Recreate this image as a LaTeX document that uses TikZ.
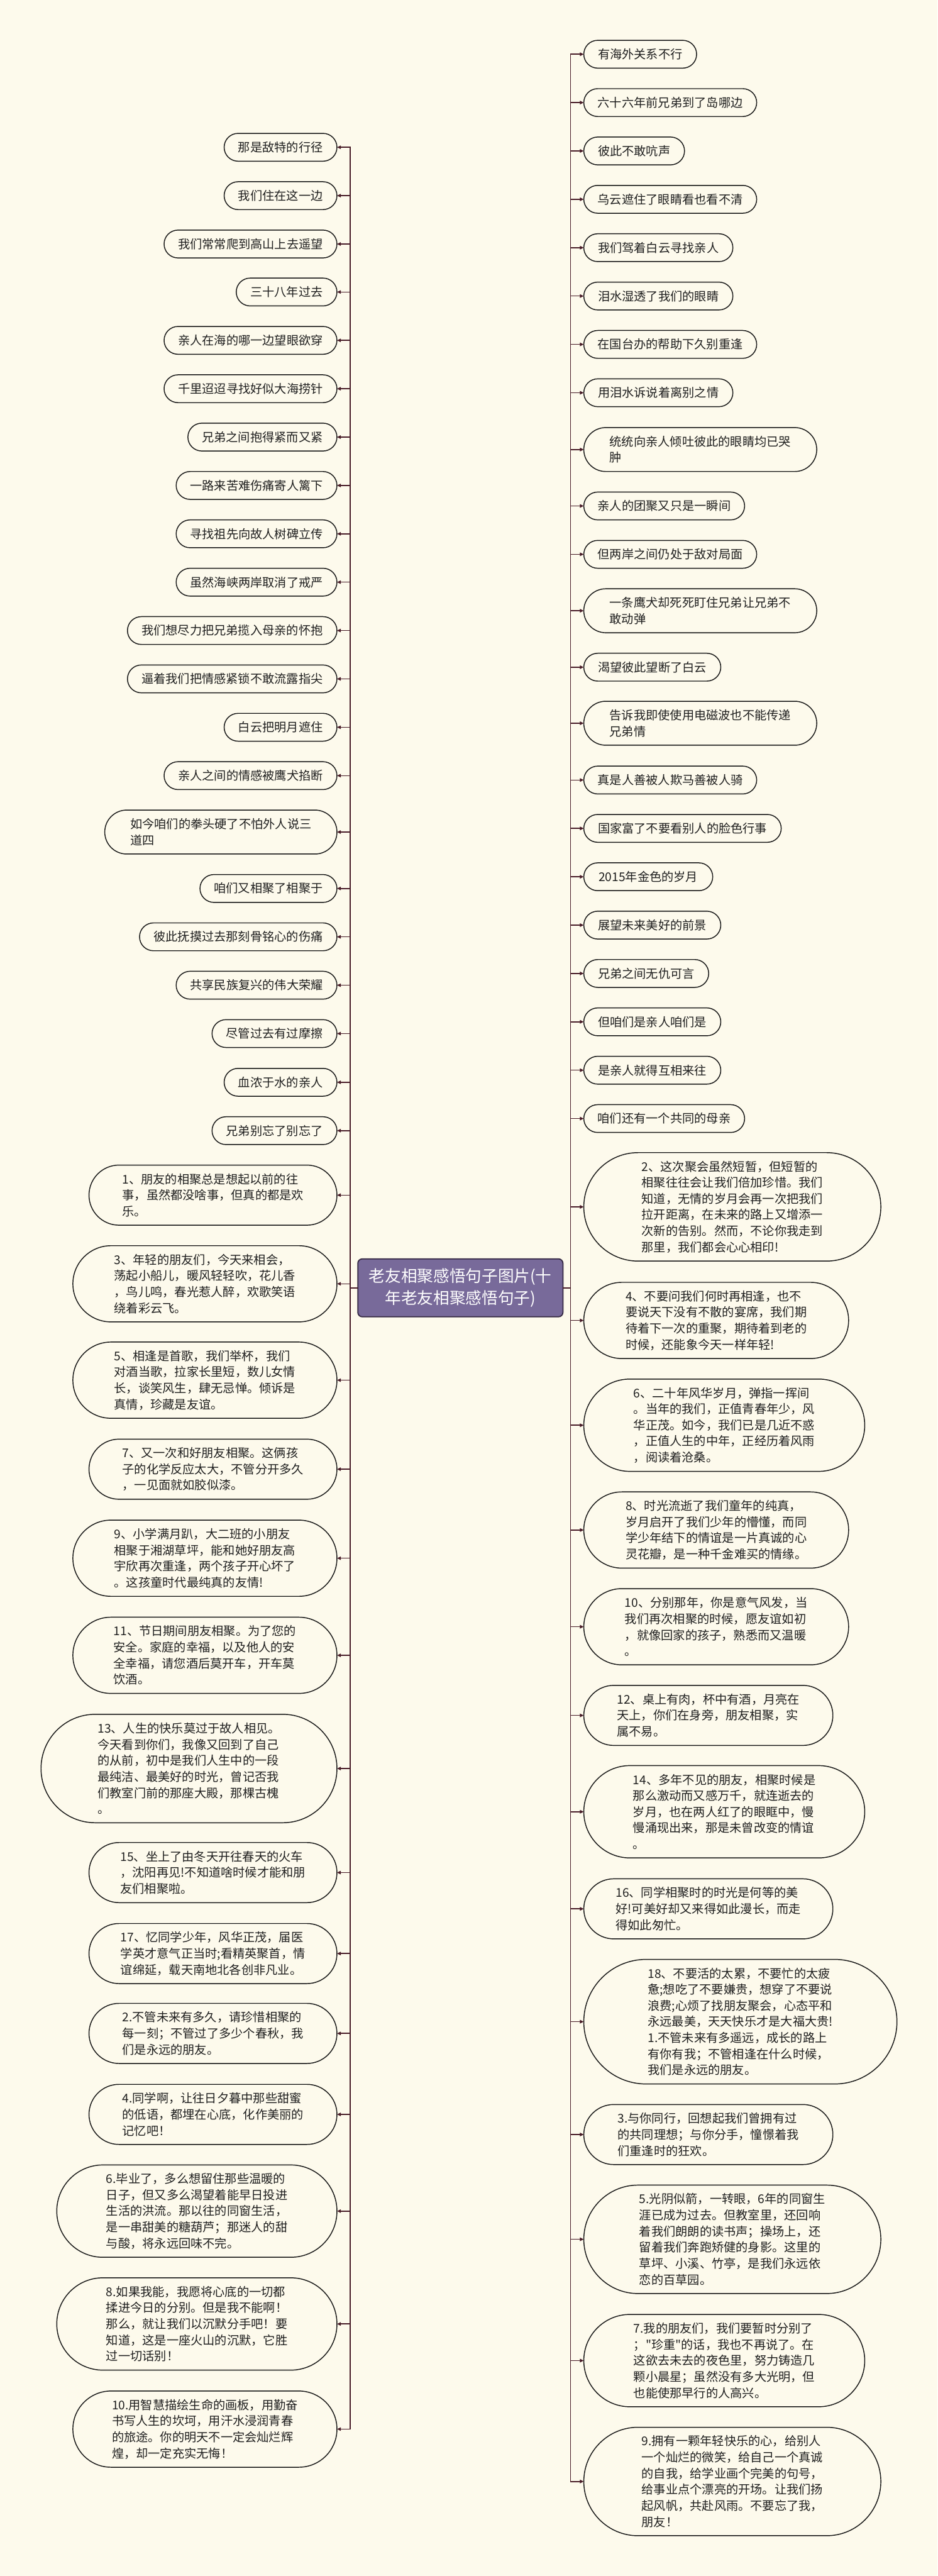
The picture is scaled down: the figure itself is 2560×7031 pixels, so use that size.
\documentclass[tikz,border=0pt]{standalone}
\usepackage{fontspec}
\newfontfamily\cjk{Noto Sans CJK SC}
\usetikzlibrary{shapes.misc,arrows.meta}
\definecolor{bgc}{RGB}{253,250,236}
\definecolor{connc}{RGB}{72,28,40}
\definecolor{cfill}{RGB}{120,106,154}
\definecolor{cline}{RGB}{52,40,66}
\newcommand\lnd[5]{\node[bub,anchor=east,minimum width=#3*0.3pt,minimum height=#4*0.3pt] (#1) at (920,-#2) {#5};}
\newcommand\rnd[5]{\node[bub,anchor=west,minimum width=#3*0.3pt,minimum height=#4*0.3pt] (#1) at (1594,-#2) {#5};}
\begin{document}
\begin{tikzpicture}[x=0.3pt,y=0.3pt,
  bub/.style={rounded rectangle, draw=black!90, line width=0.75pt, inner sep=0pt, outer sep=0pt,
    align=left, text=black!88, font=\cjk\fontsize{9.9pt}{13.2pt}\selectfont},
  cnode/.style={rectangle, rounded corners=3.6pt, fill=cfill, draw=cline, line width=0.9pt,
    inner sep=0pt, outer sep=0pt, align=center, text=white, font=\cjk\fontsize{13.2pt}{17.7pt}\selectfont},
  conn/.style={draw=connc, line width=0.8pt, -{Triangle[length=3.2pt,width=2.8pt]}}]
\useasboundingbox (0,0) rectangle (2560,-7031);
\fill[bgc] (0,0) rectangle (2560,-7031);

\node[cnode, minimum width=168pt, minimum height=47.4pt] (C) at (1257,-3515) {老友相聚感悟句子图片(十\\年老友相聚感悟句子)};

% left side
\lnd{L1}{402}{308}{76}{那是敌特的行径}
\lnd{L2}{534}{308}{76}{我们住在这一边}
\lnd{L3}{666}{472}{76}{我们常常爬到高山上去遥望}
\lnd{L4}{797}{275}{76}{三十八年过去}
\lnd{L5}{929}{472}{76}{亲人在海的哪一边望眼欲穿}
\lnd{L6}{1061}{472}{76}{千里迢迢寻找好似大海捞针}
\lnd{L7}{1193}{407}{76}{兄弟之间抱得紧而又紧}
\lnd{L8}{1325}{439}{76}{一路来苦难伤痛寄人篱下}
\lnd{L9}{1457}{439}{76}{寻找祖先向故人树碑立传}
\lnd{L10}{1589}{439}{76}{虽然海峡两岸取消了戒严}
\lnd{L11}{1721}{572}{76}{我们想尽力把兄弟揽入母亲的怀抱}
\lnd{L12}{1853}{572}{76}{逼着我们把情感紧锁不敢流露指尖}
\lnd{L13}{1985}{308}{76}{白云把明月遮住}
\lnd{L14}{2117}{472}{76}{亲人之间的情感被鹰犬掐断}
\lnd{L15}{2271}{634}{120}{如今咱们的拳头硬了不怕外人说三\\道四}
\lnd{L16}{2425}{374}{76}{咱们又相聚了相聚于}
\lnd{L17}{2557}{539}{76}{彼此抚摸过去那刻骨铭心的伤痛}
\lnd{L18}{2689}{439}{76}{共享民族复兴的伟大荣耀}
\lnd{L19}{2821}{341}{76}{尽管过去有过摩擦}
\lnd{L20}{2954}{308}{76}{血浓于水的亲人}
\lnd{L21}{3086}{341}{76}{兄弟别忘了别忘了}
\lnd{L22}{3262}{677}{164}{1、朋友的相聚总是想起以前的往\\事，虽然都没啥事，但真的都是欢\\乐。}
\lnd{L23}{3504}{721}{208}{3、年轻的朋友们，今天来相会，\\荡起小船儿，暖风轻轻吹，花儿香\\，鸟儿鸣，春光惹人醉，欢歌笑语\\绕着彩云飞。}
\lnd{L24}{3767}{721}{208}{5、相逢是首歌，我们举杯，我们\\对酒当歌，拉家长里短，数儿女情\\长，谈笑风生，肆无忌惮。倾诉是\\真情，珍藏是友谊。}
\lnd{L25}{4010}{677}{164}{7、又一次和好朋友相聚。这俩孩\\子的化学反应太大，不管分开多久\\，一见面就如胶似漆。}
\lnd{L26}{4253}{721}{208}{9、小学满月趴，大二班的小朋友\\相聚于湘湖草坪，能和她好朋友高\\宇欣再次重逢，两个孩子开心坏了\\。这孩童时代最纯真的友情!}
\lnd{L27}{4518}{721}{208}{11、节日期间朋友相聚。为了您的\\安全。家庭的幸福，以及他人的安\\全幸福，请您酒后莫开车，开车莫\\饮酒。}
\lnd{L28}{4827}{808}{296}{13、人生的快乐莫过于故人相见。\\今天看到你们，我像又回到了自己\\的从前，初中是我们人生中的一段\\最纯洁、最美好的时光，曾记否我\\们教室门前的那座大殿，那棵古槐\\。}
\lnd{L29}{5111}{677}{164}{15、坐上了由冬天开往春天的火车\\，沈阳再见!不知道啥时候才能和朋\\友们相聚啦。}
\lnd{L30}{5332}{677}{164}{17、忆同学少年，风华正茂，届医\\学英才意气正当时;看精英聚首，情\\谊绵延，载天南地北各创非凡业。}
\lnd{L31}{5550}{677}{164}{2.不管未来有多久，请珍惜相聚的\\每一刻；不管过了多少个春秋，我\\们是永远的朋友。}
\lnd{L32}{5771}{677}{164}{4.同学啊，让往日夕暮中那些甜蜜\\的低语，都埋在心底，化作美丽的\\记忆吧！}
\lnd{L33}{6035}{765}{252}{6.毕业了，多么想留住那些温暖的\\日子，但又多么渴望着能早日投进\\生活的洪流。那以往的同窗生活，\\是一串甜美的糖葫芦；那迷人的甜\\与酸，将永远回味不完。}
\lnd{L34}{6343}{765}{252}{8.如果我能，我愿将心底的一切都\\揉进今日的分别。但是我不能啊！\\那么，就让我们以沉默分手吧！要\\知道，这是一座火山的沉默，它胜\\过一切话别！}
\lnd{L35}{6630}{721}{208}{10.用智慧描绘生命的画板，用勤奋\\书写人生的坎坷，用汗水浸润青春\\的旅途。你的明天不一定会灿烂辉\\煌，却一定充实无悔！}

% right side
\rnd{R1}{148}{308}{76}{有海外关系不行}
\rnd{R2}{280}{472}{76}{六十六年前兄弟到了岛哪边}
\rnd{R3}{412}{275}{76}{彼此不敢吭声}
\rnd{R4}{544}{472}{76}{乌云遮住了眼睛看也看不清}
\rnd{R5}{676}{407}{76}{我们驾着白云寻找亲人}
\rnd{R6}{808}{407}{76}{泪水湿透了我们的眼睛}
\rnd{R7}{940}{472}{76}{在国台办的帮助下久别重逢}
\rnd{R8}{1072}{407}{76}{用泪水诉说着离别之情}
\rnd{R9}{1227}{636}{120}{统统向亲人倾吐彼此的眼睛均已哭\\肿}
\rnd{R10}{1381}{439}{76}{亲人的团聚又只是一瞬间}
\rnd{R11}{1513}{472}{76}{但两岸之间仍处于敌对局面}
\rnd{R12}{1667}{636}{120}{一条鹰犬却死死盯住兄弟让兄弟不\\敢动弹}
\rnd{R13}{1821}{374}{76}{渴望彼此望断了白云}
\rnd{R14}{1974}{636}{120}{告诉我即使使用电磁波也不能传递\\兄弟情}
\rnd{R15}{2129}{472}{76}{真是人善被人欺马善被人骑}
\rnd{R16}{2261}{539}{76}{国家富了不要看别人的脸色行事}
\rnd{R17}{2393}{352}{76}{2015年金色的岁月}
\rnd{R18}{2525}{374}{76}{展望未来美好的前景}
\rnd{R19}{2657}{341}{76}{兄弟之间无仇可言}
\rnd{R20}{2789}{374}{76}{但咱们是亲人咱们是}
\rnd{R21}{2921}{374}{76}{是亲人就得互相来往}
\rnd{R22}{3053}{439}{76}{咱们还有一个共同的母亲}
\rnd{R23}{3294}{811}{296}{2、这次聚会虽然短暂，但短暂的\\相聚往往会让我们倍加珍惜。我们\\知道，无情的岁月会再一次把我们\\拉开距离，在未来的路上又增添一\\次新的告别。然而，不论你我走到\\那里，我们都会心心相印!}
\rnd{R24}{3604}{723}{208}{4、不要问我们何时再相逢，也不\\要说天下没有不散的宴席，我们期\\待着下一次的重聚，期待着到老的\\时候，还能象今天一样年轻!}
\rnd{R25}{3890}{767}{252}{6、二十年风华岁月，弹指一挥间\\。当年的我们，正值青春年少，风\\华正茂。如今，我们已是几近不惑\\，正值人生的中年，正经历着风雨\\，阅读着沧桑。}
\rnd{R26}{4176}{723}{208}{8、时光流逝了我们童年的纯真，\\岁月启开了我们少年的懵懂，而同\\学少年结下的情谊是一片真诚的心\\灵花瓣，是一种千金难买的情缘。}
\rnd{R27}{4440}{723}{208}{10、分别那年，你是意气风发，当\\我们再次相聚的时候，愿友谊如初\\，就像回家的孩子，熟悉而又温暖\\。}
\rnd{R28}{4682}{680}{164}{12、桌上有肉，杯中有酒，月亮在\\天上，你们在身旁，朋友相聚，实\\属不易。}
\rnd{R29}{4945}{767}{252}{14、多年不见的朋友，相聚时候是\\那么激动而又感万千，就连逝去的\\岁月，也在两人红了的眼眶中，慢\\慢涌现出来，那是未曾改变的情谊\\。}
\rnd{R30}{5210}{680}{164}{16、同学相聚时的时光是何等的美\\好!可美好却又来得如此漫长，而走\\得如此匆忙。}
\rnd{R31}{5518}{855}{340}{18、不要活的太累，不要忙的太疲\\惫;想吃了不要嫌贵，想穿了不要说\\浪费;心烦了找朋友聚会，心态平和\\永远最美，天天快乐才是大福大贵!\\1.不管未来有多遥远，成长的路上\\有你有我；不管相逢在什么时候，\\我们是永远的朋友。}
\rnd{R32}{5826}{680}{164}{3.与你同行，回想起我们曾拥有过\\的共同理想；与你分手，憧憬着我\\们重逢时的狂欢。}
\rnd{R33}{6112}{811}{296}{5.光阴似箭，一转眼，6年的同窗生\\涯已成为过去。但教室里，还回响\\着我们朗朗的读书声；操场上，还\\留着我们奔跑矫健的身影。这里的\\草坪、小溪、竹亭，是我们永远依\\恋的百草园。}
\rnd{R34}{6443}{767}{252}{7.我的朋友们，我们要暂时分别了\\；"珍重"的话，我也不再说了。在\\这欲去未去的夜色里，努力铸造几\\颗小晨星；虽然没有多大光明，但\\也能使那早行的人高兴。}
\rnd{R35}{6773}{811}{296}{9.拥有一颗年轻快乐的心，给别人\\一个灿烂的微笑，给自己一个真诚\\的自我，给学业画个完美的句号，\\给事业点个漂亮的开场。让我们扬\\起风帆，共赴风雨。不要忘了我，\\朋友！}

% connectors
\foreach \i in {1,...,35} {
  \draw[conn] (C.west) -- ++(-21,0) |- (L\i.east);
  \draw[conn] (C.east) -- ++(21,0) |- (R\i.west);
}
\end{tikzpicture}
\end{document}
